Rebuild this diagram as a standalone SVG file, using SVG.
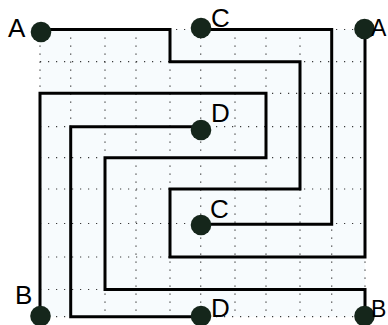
<svg xmlns="http://www.w3.org/2000/svg" width="388" height="325" viewBox="0 0 388 325">
<style>
.grid{stroke:#3a3a3a;stroke-width:1.2;stroke-dasharray:1.2 6.8;fill:none}
.wire{stroke:#000;stroke-width:3;fill:none;stroke-linejoin:miter;stroke-linecap:butt}
.pt{fill:#15261b}
.lbl{font-family:"Liberation Sans",Arial,sans-serif;font-size:26px;fill:#000}
.edge{font-size:23px}
</style>
<rect x="0" y="0" width="388" height="325" fill="#fff"/>
<rect x="40" y="29.5" width="325" height="287.2" fill="#f7fbfd"/>
<g id="grid" class="grid">
<path d="M40 29.5V316.7M70.7 29.5V316.7M105 29.5V316.7M136 29.5V316.7M170 29.5V316.7M200.7 29.5V316.7M235 29.5V316.7M266 29.5V316.7M300 29.5V316.7M331.7 29.5V316.7M365 29.5V316.7"/>
<path d="M40 29.5H365M40 61.7H365M40 93.3H365M40 126.7H365M40 157.7H365M40 189H365M40 223.5H365M40 257H365M40 289.5H365M40 316.7H365"/>
</g>
<g id="connectors">
<path id="wire-A" class="wire" d="M40 29.5H170V61.7H300V189H170V257H365V29.5"/>
<path id="wire-C" class="wire" d="M200.7 29.5H331.7V224.3H200.7"/>
<path id="wire-B" class="wire" d="M40 316.7V93.3H266V157.7H105V289.5H365V316.7"/>
<path id="wire-D" class="wire" d="M200.7 126.7H70.7V316.7H200.7"/>
</g>
<g id="node-A1"><circle class="pt" cx="41" cy="32" r="10.3"/><text class="lbl" x="8" y="37">A</text></g>
<g id="node-C1"><circle class="pt" cx="201" cy="28" r="10.3"/><text class="lbl" x="211" y="27">C</text></g>
<g id="node-A2"><circle class="pt" cx="364.5" cy="29" r="10.3"/><text class="lbl edge" x="371" y="36">A</text></g>
<g id="node-D1"><circle class="pt" cx="201" cy="130" r="10.3"/><text class="lbl" x="211" y="122">D</text></g>
<g id="node-C2"><circle class="pt" cx="201" cy="225" r="10.3"/><text class="lbl" x="210" y="218">C</text></g>
<g id="node-B1"><circle class="pt" cx="40.5" cy="316" r="10.3"/><text class="lbl" x="15" y="304">B</text></g>
<g id="node-D2"><circle class="pt" cx="201" cy="316" r="10.3"/><text class="lbl" x="211" y="317">D</text></g>
<g id="node-B2"><circle class="pt" cx="364.5" cy="316" r="10.3"/><text class="lbl edge" x="371" y="317">B</text></g>
</svg>
